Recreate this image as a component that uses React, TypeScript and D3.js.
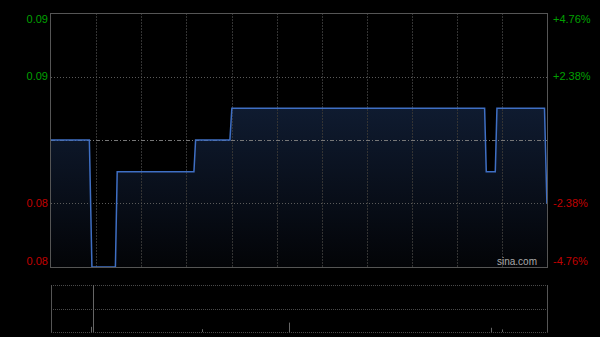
import React from "react";
import * as d3 from "d3";

const minutes = [0, 25.5, 27.2, 42.8, 44, 95, 96.1, 118.9, 120.2, 288.2, 289.3, 295.3, 296.4, 328, 329.6];
const prices = [0.084, 0.084, 0.08, 0.08, 0.083, 0.083, 0.084, 0.084, 0.085, 0.085, 0.083, 0.083, 0.085, 0.085, 0.082];

const volMinutes = [26.5, 28, 100.5, 158.5, 292.5, 299.5];
const volumes = [110000, 1000000, 60000, 200000, 90000, 55000];

const prevClose = 0.084;
const priceMin = 0.08;
const priceMax = 0.088;
const leftTicks = [0.088, 0.086, 0.082, 0.08];
const rightLabels = ["+4.76%", "+2.38%", "-2.38%", "-4.76%"];
const totalMinutes = 330;
const gridCount = 11;

export default function App() {
  const W = 600, H = 337;
  const L = 51, R = 547.5, T = 13, B = 267;
  const vT = 285, vB = 332;
  const x = d3.scaleLinear().domain([0, totalMinutes]).range([L, R]);
  const y = d3.scaleLinear().domain([priceMin, priceMax]).range([B, T]);
  const vy = d3.scaleLinear().domain([0, d3.max(volumes) as number]).range([vB, vT]);
  const pts = minutes.map((m, i) => [m, prices[i]] as [number, number]);
  const line = d3.line<[number, number]>().x(d => x(d[0])).y(d => y(d[1]))(pts) || "";
  const area = d3.area<[number, number]>().x(d => x(d[0])).y0(B).y1(d => y(d[1]))(pts) || "";
  const gridX = d3.range(1, gridCount).map(i => x((totalMinutes / gridCount) * i));
  const labelY = (i: number) => {
    const v = leftTicks[i];
    const yy = y(v);
    if (i === 0) return yy + 6;
    if (i === leftTicks.length - 1) return yy - 6;
    return yy;
  };
  const font = "Arial, 'Liberation Sans', sans-serif";
  return (
    <div style={{ position: "absolute", left: 0, top: 0, width: W, height: H, background: "#000" }}>
      <svg width={W} height={H} style={{ display: "block" }}>
        <defs>
          <linearGradient id="fillg" x1="0" y1="0" x2="0" y2="1">
            <stop offset="0%" stopColor="#0f1b30" />
            <stop offset="100%" stopColor="#030407" />
          </linearGradient>
        </defs>
        <rect x={0} y={0} width={W} height={H} fill="#000" />
        <path d={area} fill="url(#fillg)" />
        {gridX.map((gx, i) => (
          <line key={"gx" + i} x1={Math.round(gx) + 0.5} x2={Math.round(gx) + 0.5} y1={T} y2={B} stroke="#333" strokeDasharray="2,1" />
        ))}
        {[leftTicks[1], leftTicks[2]].map((v, i) => (
          <line key={"gy" + i} x1={L} x2={R} y1={Math.round(y(v)) + 0.5} y2={Math.round(y(v)) + 0.5} stroke="#5a5a5a" strokeDasharray="1,2" />
        ))}
        <line x1={L} x2={R} y1={Math.round(y(prevClose)) + 0.5} y2={Math.round(y(prevClose)) + 0.5} stroke="#777" strokeDasharray="4,2,1,2" />
        <path d={line} fill="none" stroke="#3f6fc4" strokeWidth={1.5} />
        <rect x={L - 0.5} y={T + 0.5} width={R - L + 0.5} height={B - T} fill="none" stroke="#555" strokeWidth={1} />
        {leftTicks.map((v, i) => (
          <text key={"lt" + i} x={48} y={labelY(i)} dy="0.35em" textAnchor="end" fontFamily={font} fontSize={11}
            fill={v >= prevClose ? "#00a000" : "#c00000"}>{v.toFixed(2)}</text>
        ))}
        {rightLabels.map((s, i) => (
          <text key={"rt" + i} x={553} y={labelY(i)} dy="0.35em" textAnchor="start" fontFamily={font} fontSize={11}
            fill={i < 2 ? "#00a000" : "#c00000"}>{s}</text>
        ))}
        <text x={537} y={265} textAnchor="end" fontFamily={font} fontSize={10} fill="#aaa">sina.com</text>
        {[vT, (vT + vB) / 2, vB].map((yy, i) => (
          <line key={"vg" + i} x1={L} x2={R} y1={Math.round(yy) + 0.5} y2={Math.round(yy) + 0.5} stroke="#4a4a4a" strokeDasharray="1,1" />
        ))}
        <line x1={L + 0.5} x2={L + 0.5} y1={vT} y2={vB} stroke="#555" />
        <line x1={R} x2={R} y1={vT} y2={vB + 0.5} stroke="#555" />
        {volMinutes.map((m, i) => (
          <line key={"v" + i} x1={Math.round(x(m)) + 0.5} x2={Math.round(x(m)) + 0.5} y1={vB} y2={vy(volumes[i])} stroke="#666" strokeWidth={1} />
        ))}
      </svg>
    </div>
  );
}
